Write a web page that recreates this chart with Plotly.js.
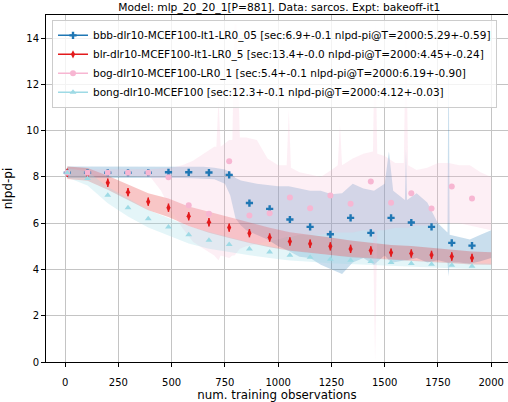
<!DOCTYPE html>
<html><head><meta charset="utf-8">
<script src="https://cdn.plot.ly/plotly-3.0.1.min.js"></script>
<style>html,body{margin:0;padding:0;background:#fff}#chart{width:508px;height:402px}</style>
</head><body><div id="chart"></div>
<script>
// ---- data ----
const seriesNames = [
  "bbb-dlr10-MCEF100-It1-LR0_05 [sec:6.9+-0.1 nlpd-pi@T=2000:5.29+-0.59]",
  "blr-dlr10-MCEF100-It1-LR0_5 [sec:13.4+-0.0 nlpd-pi@T=2000:4.45+-0.24]",
  "bog-dlr10-MCEF100-LR0_1 [sec:5.4+-0.1 nlpd-pi@T=2000:6.19+-0.90]",
  "bong-dlr10-MCEF100 [sec:12.3+-0.1 nlpd-pi@T=2000:4.12+-0.03]"
];
const markX = [10,105,200,295,390,485,580,675,770,865,960,1055,1150,1245,1340,1435,1530,1625,1720,1815,1910];
const bbbY  = [8.18,8.18,8.18,8.18,8.18,8.20,8.20,8.19,8.09,6.87,6.62,6.16,5.84,5.52,6.23,5.58,6.23,6.03,5.84,5.15,5.03];
const blrY  = [8.18,8.12,7.75,7.34,6.93,6.67,6.30,6.04,5.81,5.57,5.38,5.21,5.11,5.00,4.89,4.82,4.73,4.69,4.63,4.56,4.50];
const blrErr= [0.18,0.18,0.18,0.18,0.18,0.18,0.18,0.18,0.18,0.18,0.18,0.18,0.18,0.18,0.18,0.18,0.18,0.18,0.18,0.18,0.18];
const bogY  = [8.18,8.18,8.18,8.18,8.18,7.99,6.78,6.41,8.68,6.33,6.43,7.11,6.65,7.20,6.84,7.80,6.88,7.30,6.64,7.59,7.07];
const bongY = [8.18,7.93,7.21,6.67,6.19,5.84,5.50,5.26,5.08,4.89,4.75,4.61,4.53,4.44,4.40,4.34,4.30,4.26,4.23,4.18,4.14];

// smooth bands (blr, bong)
const smoothX = [10,105,200,295,390,485,580,675,770,865,960,1055,1150,1245,1340,1435,1530,1625,1720,1815,1910,2000];
const blrLo  = [7.91,7.83,7.45,7.01,6.56,6.27,5.88,5.59,5.36,5.14,4.96,4.81,4.71,4.62,4.53,4.48,4.40,4.37,4.33,4.27,4.22,4.20];
const blrHi  = [8.45,8.39,8.05,7.67,7.30,7.07,6.72,6.49,6.26,6.00,5.80,5.61,5.51,5.38,5.25,5.16,5.06,5.01,4.93,4.85,4.78,4.74];
const bongLo = [7.98,7.63,6.86,6.29,5.81,5.46,5.12,4.90,4.76,4.61,4.50,4.39,4.33,4.27,4.24,4.19,4.15,4.12,4.09,4.05,4.01,3.99];
const bongHi = [8.38,8.23,7.56,7.05,6.57,6.22,5.88,5.62,5.40,5.17,5.00,4.83,4.73,4.61,4.56,4.49,4.45,4.40,4.37,4.31,4.27,4.25];

// noisy bands (bbb, bog)
const bbbX  = [10,50,100,150,200,250,300,350,400,450,500,550,600,650,700,750,775,800,825,850,900,950,1000,1050,1100,1150,1200,1250,1300,1350,1400,1450,1500,1520,1540,1595,1600,1605,1650,1700,1750,1795,1800,1805,1850,1900,1950,2000];
const bbbLo = [7.95,7.97,7.97,7.97,7.97,7.97,7.96,7.96,7.95,7.95,7.95,7.95,7.94,7.93,7.90,7.70,7.20,6.20,5.90,5.70,5.50,5.30,5.00,4.80,4.55,4.50,4.20,4.00,3.80,4.30,4.50,4.20,4.60,4.40,4.30,4.40,4.40,4.40,4.50,4.30,4.40,4.30,3.70,4.30,4.30,4.25,4.35,4.50];
const bbbHi = [8.45,8.45,8.45,8.45,8.45,8.45,8.45,8.45,8.45,8.44,8.45,8.44,8.44,8.44,8.40,8.32,8.20,7.95,7.85,7.80,7.70,7.65,7.60,7.60,7.50,7.40,7.40,7.25,7.30,7.70,7.50,7.40,7.70,9.10,7.40,7.00,9.20,7.00,7.30,6.90,6.00,5.60,14.80,5.50,5.40,5.30,5.50,5.70];
const bogX  = [10,100,200,300,400,450,500,550,600,650,700,710,720,730,770,785,795,805,820,850,900,950,1000,1040,1050,1060,1100,1150,1200,1250,1280,1290,1300,1350,1400,1445,1455,1465,1500,1550,1590,1600,1610,1650,1700,1750,1800,1850,1900,1950,2000];
const bogLo = [8.05,8.05,8.05,8.05,8.00,7.40,6.50,5.80,5.20,4.90,4.60,4.50,4.40,4.60,4.50,4.60,4.60,4.70,4.90,5.00,5.10,5.20,5.30,5.40,5.40,5.40,5.50,5.50,5.50,5.60,5.60,5.60,5.60,5.60,5.70,5.70,0.00,5.70,5.70,5.80,5.80,5.80,5.80,5.90,5.90,6.00,6.00,6.00,5.90,5.80,5.70];
const bogHi = [8.32,8.32,8.32,8.32,8.33,8.36,8.40,8.50,8.70,9.00,9.30,9.30,11.40,9.30,9.60,9.60,14.60,14.60,9.70,9.70,9.60,8.80,8.50,8.50,10.90,8.40,8.20,8.10,8.00,8.30,8.50,10.30,8.50,8.80,9.00,9.10,15.00,9.00,8.90,8.60,8.60,15.00,8.50,8.30,8.40,8.60,8.60,8.50,8.50,8.20,8.00];

const xTicks = [0,250,500,750,1000,1250,1500,1750,2000];
const yTicks = [0,2,4,6,8,10,12,14];

// ---- styling ----
const colors = ['#1f77b4','#e31a1c','#f7b6d2','#9edae5'];
const bandColors = ['rgba(31,119,180,0.24)','rgba(227,26,28,0.25)','rgba(247,182,210,0.22)','rgba(158,218,229,0.28)'];
const symbols = ['cross','diamond-tall','circle','triangle-up'];
const sizes = [6,6,6,6];
const FONT = 'DejaVu Sans, sans-serif';

function band(x, lo, hi, color){
  return {x: x.concat(x.slice().reverse()), y: hi.concat(lo.slice().reverse()),
    type:'scatter', mode:'lines', fill:'toself', fillcolor:color,
    line:{width:0,color:'rgba(0,0,0,0)'}, hoverinfo:'skip', showlegend:false};
}
function marks(y, i, err){
  const t = {x: markX, y: y, type:'scatter', mode:'markers', showlegend:false, hoverinfo:'skip',
    marker:{symbol:symbols[i], size:sizes[i], color:colors[i], line:{width:0}}};
  if (err) t.error_y = {type:'data', array:err, visible:true, color:colors[i], thickness:1.5, width:0};
  return t;
}
function legendItem(i){
  return {x:[null], y:[null], type:'scatter', mode:'lines+markers', name:seriesNames[i],
    line:{color:colors[i], width:1.5},
    marker:{symbol:symbols[i], size:sizes[i], color:colors[i], line:{width:0}}};
}

const data = [
  band(bbbX, bbbLo, bbbHi, bandColors[0]),
  band(smoothX, blrLo, blrHi, bandColors[1]),
  band(bogX, bogLo, bogHi, bandColors[2]),
  band(smoothX, bongLo, bongHi, bandColors[3]),
  marks(bbbY, 0),
  marks(blrY, 1, blrErr),
  marks(bogY, 2),
  marks(bongY, 3),
  legendItem(0), legendItem(1), legendItem(2), legendItem(3)
];

const layout = {
  width:508, height:402,
  margin:{l:46, r:0, t:15, b:40, pad:0},
  paper_bgcolor:'#fff', plot_bgcolor:'#fff',
  font:{family:FONT, size:10, color:'#000'},
  title:{text:'Model: mlp_20_20_1[P=881]. Data: sarcos. Expt: bakeoff-it1',
    font:{family:FONT, size:10.7, color:'#000'}, xref:'paper', x:0.505, xanchor:'center',
    yref:'container', y:0.983, yanchor:'middle'},
  xaxis:{range:[-90,2079], tickvals:xTicks, ticktext:xTicks.map(String),
    showgrid:true, gridcolor:'#c4c4c4', gridwidth:1,
    showline:true, linecolor:'#000', linewidth:1, mirror:true,
    ticks:'outside', ticklen:4, tickcolor:'#000', tickwidth:1,
    zeroline:false, ticklabelstandoff:7,
    tickfont:{family:FONT, size:10, color:'#000'},
    title:{text:'num. training observations', font:{family:FONT, size:11.8, color:'#000'}, standoff:0}},
  yaxis:{range:[0,15], tickvals:yTicks, ticktext:yTicks.map(String),
    showgrid:true, gridcolor:'#c4c4c4', gridwidth:1,
    showline:true, linecolor:'#000', linewidth:1,
    ticks:'outside', ticklen:4, tickcolor:'#000', tickwidth:1,
    zeroline:false,
    tickfont:{family:FONT, size:10, color:'#000'},
    title:{text:'nlpd-pi', font:{family:FONT, size:12, color:'#000'}}},
  legend:{x:0.013, y:0.986, xanchor:'left', yanchor:'top',
    bgcolor:'rgba(255,255,255,0.8)', bordercolor:'#cccccc', borderwidth:1,
    font:{family:FONT, size:10.5, color:'#000'}, itemwidth:30, tracegroupgap:0},
  showlegend:true, hovermode:false
};

Plotly.newPlot('chart', data, layout, {displayModeBar:false, staticPlot:true});
</script></body></html>
